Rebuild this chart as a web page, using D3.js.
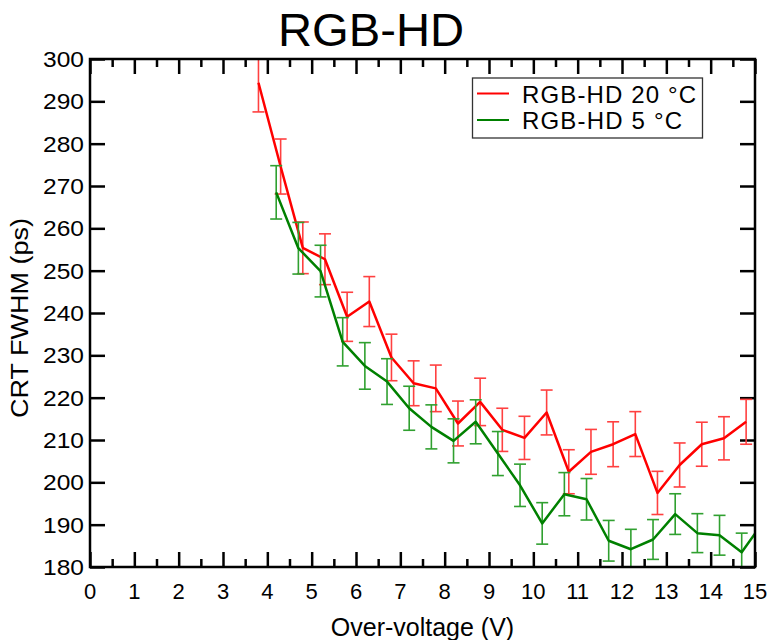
<!DOCTYPE html>
<html>
<head>
<meta charset="utf-8">
<script src="https://cdn.jsdelivr.net/npm/d3@7"></script>
<style>
    body { margin: 0; background: #fff; }
    svg { display: block; font-family: "Liberation Sans", Arial, sans-serif; }
</style>
</head>
<body>
<svg id="main" width="772" height="640"></svg>
<script>
// over-voltage (V) for each series
const voltage20 = [3.8, 4.3, 4.8, 5.3, 5.8, 6.3, 6.8, 7.3, 7.8, 8.3, 8.8, 9.3, 9.8, 10.3, 10.8, 11.3, 11.8, 12.3, 12.8, 13.3, 13.8, 14.3, 14.8];
const fwhm20 = [294.4, 274.6, 255.4, 252.7, 239.1, 242.7, 229.5, 223.4, 222.2, 213.9, 219.0, 212.4, 210.5, 216.5, 202.5, 207.2, 209.0, 211.4, 197.5, 204.1, 209.0, 210.4, 214.3];
const err20 = [6.9, 6.5, 6.1, 6.0, 5.8, 5.9, 5.5, 5.3, 5.5, 5.3, 5.6, 5.1, 5.1, 5.3, 5.2, 5.3, 5.3, 5.3, 5.1, 5.2, 5.2, 5.1, 5.3];

const voltage5 = [4.2, 4.7, 5.2, 5.7, 6.2, 6.7, 7.2, 7.7, 8.2, 8.7, 9.2, 9.7, 10.2, 10.7, 11.2, 11.7, 12.2, 12.7, 13.2, 13.7, 14.2, 14.7, 15.2];
const fwhm5 = [268.5, 255.3, 249.9, 233.2, 227.5, 223.8, 217.5, 213.1, 209.8, 214.3, 206.8, 199.3, 190.3, 197.2, 196.0, 186.2, 184.2, 186.5, 192.5, 188.0, 187.5, 183.5, 190.8];
const err5 = [6.3, 6.1, 6.1, 5.7, 5.5, 5.4, 5.2, 5.2, 5.2, 5.2, 5.2, 5.0, 4.9, 5.1, 4.9, 4.8, 4.7, 4.7, 4.8, 4.6, 4.7, 4.5, 4.6];

const xTicks = d3.range(0, 16, 1);
const xMinorTicks = d3.range(0.5, 15, 1);
const yTicks = d3.range(180, 301, 10);

const seriesNames = ["RGB-HD 20 °C", "RGB-HD 5 °C"];
const seriesColors = ["#ff0000", "#008000"];
const barColors = ["#ff4040", "#30a030"];

const size = {
    left: 90, right: 755, top: 59, bottom: 567,
    major: 15, minor: 8
};

const series = [
    {name: seriesNames[0], color: seriesColors[0], bar: barColors[0], labelWidth: 174,
        points: voltage20.map((v, i) => ({x: v, y: fwhm20[i], e: err20[i]}))},
    {name: seriesNames[1], color: seriesColors[1], bar: barColors[1], labelWidth: 160,
        points: voltage5.map((v, i) => ({x: v, y: fwhm5[i], e: err5[i]}))}
];

const xScale = d3.scaleLinear([0, 15], [size.left, size.right]);
const yScale = d3.scaleLinear([180, 300], [size.bottom, size.top]);

const svg = d3.select("#main");

svg.append("defs")
    .append("clipPath")
    .attr("id", "plot-clip")
    .append("rect")
    .attr("x", size.left)
    .attr("y", size.top)
    .attr("width", size.right - size.left)
    .attr("height", size.bottom - size.top);

// title
svg.append("text")
    .attr("x", 371)
    .attr("y", 46)
    .attr("text-anchor", "middle")
    .attr("font-size", 46)
    .attr("textLength", 186)
    .attr("lengthAdjust", "spacingAndGlyphs")
    .attr("fill", "#000")
    .text("RGB-HD");

// axes: ticks point inward on all four sides
const bottomAxis = svg.append("g")
    .attr("transform", `translate(0,${size.bottom})`)
    .call(d3.axisTop(xScale).tickValues(xTicks).tickSize(size.major).tickFormat(""));
const bottomMinor = svg.append("g")
    .attr("transform", `translate(0,${size.bottom})`)
    .call(d3.axisTop(xScale).tickValues(xMinorTicks).tickSize(size.minor).tickFormat(""));
const topAxis = svg.append("g")
    .attr("transform", `translate(0,${size.top})`)
    .call(d3.axisBottom(xScale).tickValues(xTicks).tickSize(size.major).tickFormat(""));
const topMinor = svg.append("g")
    .attr("transform", `translate(0,${size.top})`)
    .call(d3.axisBottom(xScale).tickValues(xMinorTicks).tickSize(size.minor).tickFormat(""));
const leftAxis = svg.append("g")
    .attr("transform", `translate(${size.left},0)`)
    .call(d3.axisRight(yScale).tickValues(yTicks).tickSize(size.major).tickFormat(""));
const rightAxis = svg.append("g")
    .attr("transform", `translate(${size.right},0)`)
    .call(d3.axisLeft(yScale).tickValues(yTicks).tickSize(size.major).tickFormat(""));

[bottomAxis, bottomMinor, topAxis, topMinor, leftAxis, rightAxis].forEach(g => {
    g.select(".domain").remove();
    g.selectAll(".tick line").attr("stroke", "#000").attr("stroke-width", 2.5);
});

// tick labels
svg.append("g")
    .selectAll("text")
    .data(xTicks)
    .join("text")
    .attr("x", d => xScale(d))
    .attr("y", 599)
    .attr("text-anchor", "middle")
    .attr("font-size", 22)
    .text(d => d);

svg.append("g")
    .selectAll("text")
    .data(yTicks)
    .join("text")
    .attr("x", 84)
    .attr("y", d => yScale(d) + 8)
    .attr("text-anchor", "end")
    .attr("font-size", 22)
    .attr("textLength", 41)
    .attr("lengthAdjust", "spacingAndGlyphs")
    .text(d => d);

// axis titles
svg.append("text")
    .attr("x", (size.left + size.right) / 2)
    .attr("y", 636)
    .attr("text-anchor", "middle")
    .attr("font-size", 25)
    .text("Over-voltage (V)");

svg.append("text")
    .attr("transform", `translate(28,318) rotate(-90)`)
    .attr("text-anchor", "middle")
    .attr("font-size", 23)
    .attr("textLength", 200)
    .attr("lengthAdjust", "spacingAndGlyphs")
    .text("CRT FWHM (ps)");

// data
const plot = svg.append("g").attr("clip-path", "url(#plot-clip)");

const line = d3.line()
    .x(d => xScale(d.x))
    .y(d => yScale(d.y));

series.forEach(s => {
    const bars = plot.append("g")
        .attr("stroke", s.bar)
        .attr("stroke-width", 1.6);

    bars.selectAll("line.v")
        .data(s.points)
        .join("line")
        .attr("class", "v")
        .attr("x1", d => xScale(d.x))
        .attr("x2", d => xScale(d.x))
        .attr("y1", d => yScale(d.y - d.e))
        .attr("y2", d => yScale(d.y + d.e));

    [1, -1].forEach(sign => {
        bars.selectAll(`line.cap${sign}`)
            .data(s.points)
            .join("line")
            .attr("class", `cap${sign}`)
            .attr("x1", d => xScale(d.x) - 6)
            .attr("x2", d => xScale(d.x) + 6)
            .attr("y1", d => yScale(d.y + sign * d.e))
            .attr("y2", d => yScale(d.y + sign * d.e));
    });

    plot.append("path")
        .datum(s.points)
        .attr("d", line)
        .attr("fill", "none")
        .attr("stroke", s.color)
        .attr("stroke-width", 2.5)
        .attr("stroke-linejoin", "round");
});

// frame
svg.append("rect")
    .attr("x", size.left)
    .attr("y", size.top)
    .attr("width", size.right - size.left)
    .attr("height", size.bottom - size.top)
    .attr("fill", "none")
    .attr("stroke", "#000")
    .attr("stroke-width", 2.5);

// legend
const legend = svg.append("g");
legend.append("rect")
    .attr("x", 472.5)
    .attr("y", 78)
    .attr("width", 230)
    .attr("height", 60)
    .attr("fill", "#fff")
    .attr("stroke", "#333")
    .attr("stroke-width", 1.3);

series.forEach((s, i) => {
    const yPos = 93.5 + i * 26.5;
    legend.append("line")
        .attr("x1", 477)
        .attr("x2", 509)
        .attr("y1", yPos)
        .attr("y2", yPos)
        .attr("stroke", s.color)
        .attr("stroke-width", 2);
    legend.append("text")
        .attr("x", 522)
        .attr("y", yPos + 9)
        .attr("font-size", 24)
        .attr("textLength", s.labelWidth)
        .attr("lengthAdjust", "spacing")
        .text(s.name);
});
</script>
</body>
</html>
